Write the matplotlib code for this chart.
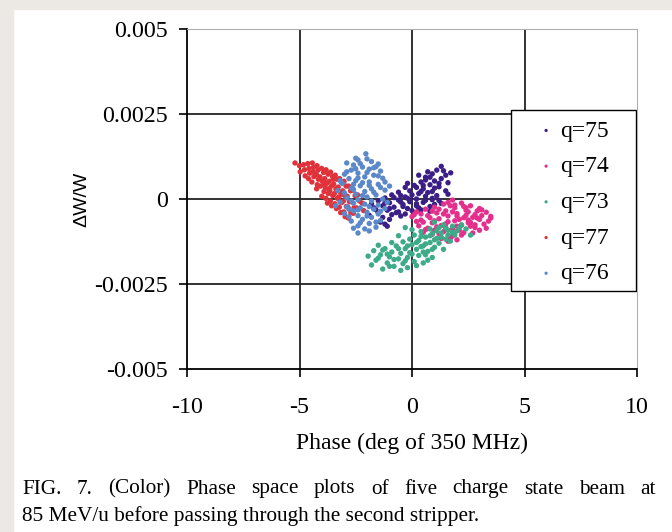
import matplotlib
matplotlib.use("Agg")
import matplotlib.pyplot as plt
from matplotlib.patches import Rectangle

plt.rcParams['font.family'] = ['Liberation Serif', 'DejaVu Serif']

# --- data: phase (deg of 350 MHz), dW/W in units of 1e-4 ---
Y_UNIT = 1e-4

q75_x = [1.72, 1.3, 1.1, 1.5, 0.9, 1.3, 0.6, 1.0, 1.6, 0.4, 0.8, 1.2, 0.1, -0.3, 0.5,
         1.5, 0.9, -0.1, -0.6, 0.3, 1.1, -0.9, 0.6, -0.3, -1.2, 0.2, 0.9, -0.6, -1.5,
         -0.1, 0.5, -1.0, 1.3, -0.4, 0.2, -1.3, 0.8, -0.8, -1.7, -0.2, 0.4, -1.1, -0.6,
         -1.5, 0.1, -0.9, -1.3, -0.5, -1.0, -1.4, 0.7, 0.0, -0.5, 0.6, 1.4, 0.2, -1.8,
         1.0, -0.2, 0.8, -1.1, -1.2,
         0.3, 0.7, 1.2, 0.4, -0.2, 0.6, -0.8, 1.0, 0.0, -0.4, -1.2, 0.3, -0.7, -1.6,
         0.5, 0.9, 1.6, -0.1, -1.0, 0.2, -0.5, 1.2, -0.3, -1.9, 0.8]
q75_y = [7.7, 9.6, 8.5, 7.0, 7.4, 6.0, 6.4, 5.3, 4.8, 5.0, 4.2, 3.6, 4.0, 3.4, 3.0,
         2.4, 2.2, 2.4, 2.0, 1.6, 1.0, 1.2, 0.8, 0.6, 0.3, 0.0, -0.2, -0.3, -0.5,
         -0.8, -1.0, -1.1, -1.3, -1.6, -2.0, -2.0, -2.2, -2.4, -2.6, -2.8, -3.2, -3.3, -3.8,
         -4.0, -4.1, -4.6, -5.4, -5.0, -6.0, -6.8, 1.9, 1.2, -0.9, 5.6, 8.3, -1.4, -1.4,
         3.2, 4.6, -3.6, -8.0, -7.4,
         7.0, 8.0, 4.6, 2.2, 0.2, -0.4, 0.4, -1.6, -3.4, -2.2, -1.2, -2.6, -4.0, -3.2,
         4.0, 0.2, 1.4, -0.2, -2.8, 3.4, 1.0, -0.4, -4.4, -4.8, 6.4]

q74_x = [1.8, 2.2, 1.4, 2.6, 1.0, 1.9, 3.0, 0.6, 2.4, 1.5, 3.3, 0.2, 1.1, 2.0, 2.8,
         0.7, 1.6, 3.5, 0.0, 2.3, 1.2, 3.0, 0.4, 1.9, 2.6, 0.9, 1.5, 3.2, 2.2, 0.3,
         1.1, 2.8, 1.8, 0.6, 3.0, 1.4, 2.3, 0.9, 1.8, 1.3, 1.6, 2.5, 1.7, 0.8, 2.1,
         1.4, 2.7, 3.4, 0.5, 2.0, 1.2, 2.5, 1.0, 2.4, 0.1, 3.1, 1.9, 2.9, 1.6, 2.7,
         0.4, 1.0, 1.3, 2.0, 2.4, 2.9, 3.5, 3.3, 2.6, 2.1, 1.5, 0.7, 1.7, 2.2, 1.2,
         0.2, 1.8, 2.3, 2.8, 3.1, 0.9, 1.6, 0.5, 2.0, 2.5]
q74_y = [-0.3, -1.2, -1.5, -2.0, -2.4, -2.6, -2.8, -3.0, -3.3, -3.5, -3.9, -3.8, -4.1, -4.3, -4.6,
         -4.9, -5.0, -5.1, -5.2, -5.5, -5.8, -6.0, -6.2, -6.4, -6.9, -7.0, -7.3, -7.4, -7.7, -7.9,
         -8.2, -8.4, -8.8, -9.0, -9.2, -9.6, -9.9, -10.4, -10.9, -11.6, -12.4, -3.8, -2.0, -5.5, -6.0,
         -4.4, -5.4, -6.5, -6.8, -8.0, -3.0, -7.0, -9.2, -2.6, -4.6, -4.9, -1.8, -3.5, -6.7, -10.0,
         -4.4, -6.4, -7.8, -5.0, -4.8, -5.6, -5.6, -8.6, -8.0, -9.2, -8.4, -8.6, -11.6, -10.6, -10.2,
         -6.6, -3.8, -2.2, -7.6, -3.2, -3.6, -1.0, -9.8, -12.0, -6.2]

q73_x = [-1.95, -1.7, -1.6, -1.4, -1.3, -1.2, -1.1, -1.0, -0.9, -0.8, -0.7, -0.6, -0.5, -0.4, -0.4,
         -0.3, -0.2, -0.1, -0.1, 0.0, 0.1, 0.1, 0.2, 0.3, 0.3, 0.4, 0.5, 0.5, 0.6, 0.7,
         0.8, 0.8, 0.9, 1.0, 1.1, 1.2, 1.2, 1.3, 1.4, 1.5, 1.6, 1.7, 1.8, 1.9, 2.0,
         2.2, 2.4, -0.9, -1.5, -0.2, 0.6, 1.0, 0.0, -0.6, 0.4, 1.4, -1.8, 0.9, -0.3, 2.6,
         -1.5, -1.1, -0.8, -0.6, -0.3, 0.0, 0.2, 0.4, 0.6, 0.8, 1.0, 1.1, 1.3, 1.6, 1.8,
         0.7, 0.2, -0.5, -1.0, 0.9, 1.5, 2.1, -0.2, 0.5, -1.3]
q73_y = [-16.8, -15.2, -18.0, -16.4, -20.6, -14.6, -18.8, -17.0, -15.6, -19.8, -13.8, -17.6, -16.0, -12.6, -19.0,
         -14.6, -17.2, -11.8, -15.8, -13.4, -18.4, -10.6, -14.8, -16.6, -12.2, -9.6, -13.8, -18.8, -11.2, -15.4,
         -8.8, -12.8, -10.2, -14.2, -11.6, -8.4, -13.0, -10.0, -7.6, -11.8, -9.2, -12.4, -8.0, -10.6, -9.4,
         -7.6, -8.8, -12.8, -13.6, -20.2, -16.4, -6.8, -9.0, -10.8, -14.0, -14.8, -19.4, -17.2, -8.4, -10.6,
         -17.4, -16.2, -17.8, -14.6, -18.2, -16.2, -12.8, -11.0, -13.2, -10.8, -12.0, -9.4, -11.2, -10.6, -9.8,
         -18.0, -19.6, -21.0, -19.8, -14.8, -8.6, -8.4, -13.8, -15.6, -15.0]

q77_x = [-5.2, -5.0, -4.97, -4.82, -4.78, -4.75, -4.63, -4.58, -4.55, -4.6,
         -4.43, -4.38, -4.41, -4.36, -4.45, -4.22, -4.18, -4.25, -4.16, -4.21, -4.24,
         -4.02, -3.93, -4.09, -3.98, -4.07, -3.91, -4.01,
         -3.82, -3.73, -3.88, -3.79, -3.85, -3.72, -3.83, -3.76,
         -3.62, -3.53, -3.68, -3.58, -3.65, -3.52, -3.63, -3.57,
         -3.41, -3.33, -3.48, -3.38, -3.45, -3.32, -3.43, -3.36,
         -3.22, -3.13, -3.28, -3.18, -3.25, -3.12, -3.23, -3.17,
         -3.02, -2.93, -3.08, -2.98, -3.05, -2.92, -3.03, -2.97,
         -2.82, -2.73, -2.88, -2.78, -2.85, -2.72, -2.83,
         -2.62, -2.53, -2.68, -2.58, -2.61, -2.42, -2.33, -2.47, -2.22, -2.15,
         -3.9, -3.5, -3.1, -4.3, -3.7]
q77_y = [10.6, 9.8, 8.0, 10.1, 8.6, 6.8, 10.4, 9.0, 7.6, 6.0,
         10.6, 9.3, 8.0, 6.6, 5.0, 9.8, 8.5, 7.2, 5.8, 4.2, 3.0,
         9.0, 7.8, 6.5, 5.2, 3.8, 2.2, 0.8,
         8.6, 7.3, 6.0, 4.6, 3.2, 1.6, 0.2, -1.2,
         7.9, 6.6, 5.2, 3.8, 2.4, 1.0, -0.6, -2.0,
         7.0, 5.8, 4.4, 3.0, 1.6, 0.2, -1.4, -2.8,
         6.0, 4.8, 3.5, 2.0, 0.6, -1.0, -2.4, -4.0,
         5.2, 3.8, 2.4, 1.0, -0.6, -2.2, -3.8, -5.2,
         3.8, 2.4, 0.8, -0.8, -2.4, -4.0, -5.6,
         2.6, 1.0, -0.8, -2.6, -4.2, 1.2, -0.6, -2.6, -1.2, -3.4,
         4.4, 5.8, 1.4, 7.6, 3.0]

q76_x = [-2.05, -2.4, -2.9, -2.6, -1.8, -1.5, -2.2, -1.9, -2.7, -1.4, -2.4, -3.0, -1.7, -2.1, -2.8,
         -1.3, -2.5, -1.9, -3.1, -1.5, -2.3, -2.7, -1.8, -1.2, -2.1, -3.0, -2.5, -1.6, -2.0, -2.9,
         -1.3, -2.4, -1.8, -3.2, -2.6, -2.1, -1.5, -2.9, -2.3, -1.7, -1.2, -2.6, -2.0, -3.0, -1.5,
         -2.4, -1.8, -2.2, -1.4, -2.7, -1.9, -2.4, -1.6, -2.1, -2.8, -2.2, -1.6, -2.5, -2.0, -3.3,
         -3.4, -1.1, -1.0, -2.6,
         -2.3, -1.7, -2.5, -2.0, -2.9, -1.5, -2.4, -1.9, -2.6, -1.4, -2.2, -1.7, -2.7, -1.9,
         -2.4, -1.4, -2.8, -2.0, -1.6, -2.3, -1.9, -2.4, -2.6, -3.2, -1.2]
q76_y = [13.3, 11.5, 10.6, 10.0, 11.0, 10.3, 9.4, 8.8, 8.5, 8.2, 7.6, 7.3, 7.0, 6.5, 6.0,
         6.1, 5.4, 5.0, 4.6, 4.3, 3.9, 3.2, 3.0, 2.6, 2.2, 1.8, 1.4, 1.2, 0.6, 0.3,
         0.0, -0.2, -0.6, -0.9, -1.2, -1.5, -1.8, -2.3, -2.6, -3.0, -2.8, -3.5, -3.9, -4.3, -4.4,
         -4.9, -5.4, -6.0, -6.3, -6.5, -7.2, -7.9, -8.3, -8.8, -3.0, 4.8, 9.5, 12.0, 11.8, 2.5,
         -2.0, -1.0, 3.8, -8.6,
         10.4, 9.2, 8.9, 7.8, 8.0, 6.8, 6.2, 4.0, 4.3, 3.4, 1.0, 2.0, -0.6, -2.2,
         -3.2, -3.6, -5.2, -5.0, -6.8, -7.0, -9.4, -10.0, 2.8, 5.4, 5.0]

series = [
    ("q=75", q75_x, q75_y, "#3b1e86"),
    ("q=74", q74_x, q74_y, "#e4308c"),
    ("q=73", q73_x, q73_y, "#3daa88"),
    ("q=77", q77_x, q77_y, "#e0323a"),
    ("q=76", q76_x, q76_y, "#5b88c8"),
]

x_ticks = [-10, -5, 0, 5, 10]
y_ticks = [-0.005, -0.0025, 0, 0.0025, 0.005]
y_tick_labels = ["-0.005", "-0.0025", "0", "0.0025", "0.005"]

caption1 = "FIG. 7. (Color) Phase space plots of five charge state beam at"
caption2 = "85 MeV/u before passing through the second stripper."

W, H = 672, 532
fig = plt.figure(figsize=(W / 100, H / 100), dpi=100)
# light grey page margin at top and left
fig.patches.append(Rectangle((0, 1 - 9 / H), 1, 9 / H, transform=fig.transFigure,
                             color="#ece9e5", zorder=0))
fig.patches.append(Rectangle((0, 0), 13 / W, 1, transform=fig.transFigure,
                             color="#ece9e5", zorder=0))

ax = fig.add_axes([187 / W, 1 - 369 / H, 450 / W, 340 / H])

for label, xs, ys, col in series:
    ax.scatter(xs, [v * Y_UNIT for v in ys], s=15, color=col, edgecolors="none",
               label=label, zorder=3)

ax.set_xlim(-10, 10)
ax.set_ylim(-0.005, 0.005)
ax.set_xticks(x_ticks)
ax.set_xticklabels([str(t) for t in x_ticks])
ax.set_yticks(y_ticks)
ax.set_yticklabels(y_tick_labels)
ax.tick_params(direction="out", length=5.5, width=1.2, labelsize=17.3, color="black")
ax.tick_params(axis="x", pad=15)
ax.tick_params(axis="y", pad=8)

for x in x_ticks[1:-1]:
    ax.axvline(x, color="#222222", lw=1.3, zorder=1)
for y in y_ticks[1:-1]:
    ax.axhline(y, color="#222222", lw=1.3, zorder=1)

ax.spines["left"].set_linewidth(1.3)
ax.spines["bottom"].set_linewidth(1.3)
ax.spines["top"].set_color("#b0b0b0")
ax.spines["right"].set_color("#b0b0b0")

ax.set_xlabel("Phase (deg of 350 MHz)", fontsize=17, labelpad=10)
ax.set_ylabel("ΔW/W", fontsize=14, family=["Liberation Sans", "DejaVu Sans"])
ax.yaxis.set_label_coords(-0.215, 0.5)

# legend box drawn separately so its size matches the original
ax.add_patch(Rectangle((0.72, 0.229), 0.278, 0.533, transform=ax.transAxes,
                       facecolor="white", edgecolor="black", lw=1.0, zorder=5))
leg = ax.legend(loc="upper left", bbox_to_anchor=((539 - 187) / 450, 0.732), fontsize=17,
                frameon=False, markerscale=0.6, handlelength=0.6, handletextpad=0.3,
                labelspacing=0.6, borderpad=0.0, borderaxespad=0)
leg.set_zorder(6)

# caption: first line justified to the text width, second line left aligned
cap_y1 = 1 - 489 / H
cap_y2 = 1 - 516 / H
words = caption1.split()
word_texts = [fig.text(0, cap_y1, w, fontsize=15.3, va="center", ha="left") for w in words]
fig.canvas.draw()
renderer = fig.canvas.get_renderer()
widths = [t.get_window_extent(renderer).width for t in word_texts]
left_px, right_px = 22, 656
gap = (right_px - left_px - sum(widths)) / (len(words) - 1)
xpos = left_px
for t, wdt in zip(word_texts, widths):
    t.set_x(xpos / W)
    xpos += wdt + gap
fig.text(left_px / W, cap_y2, caption2, fontsize=15.3, va="center", ha="left")

fig.savefig("out.png", dpi=100)
